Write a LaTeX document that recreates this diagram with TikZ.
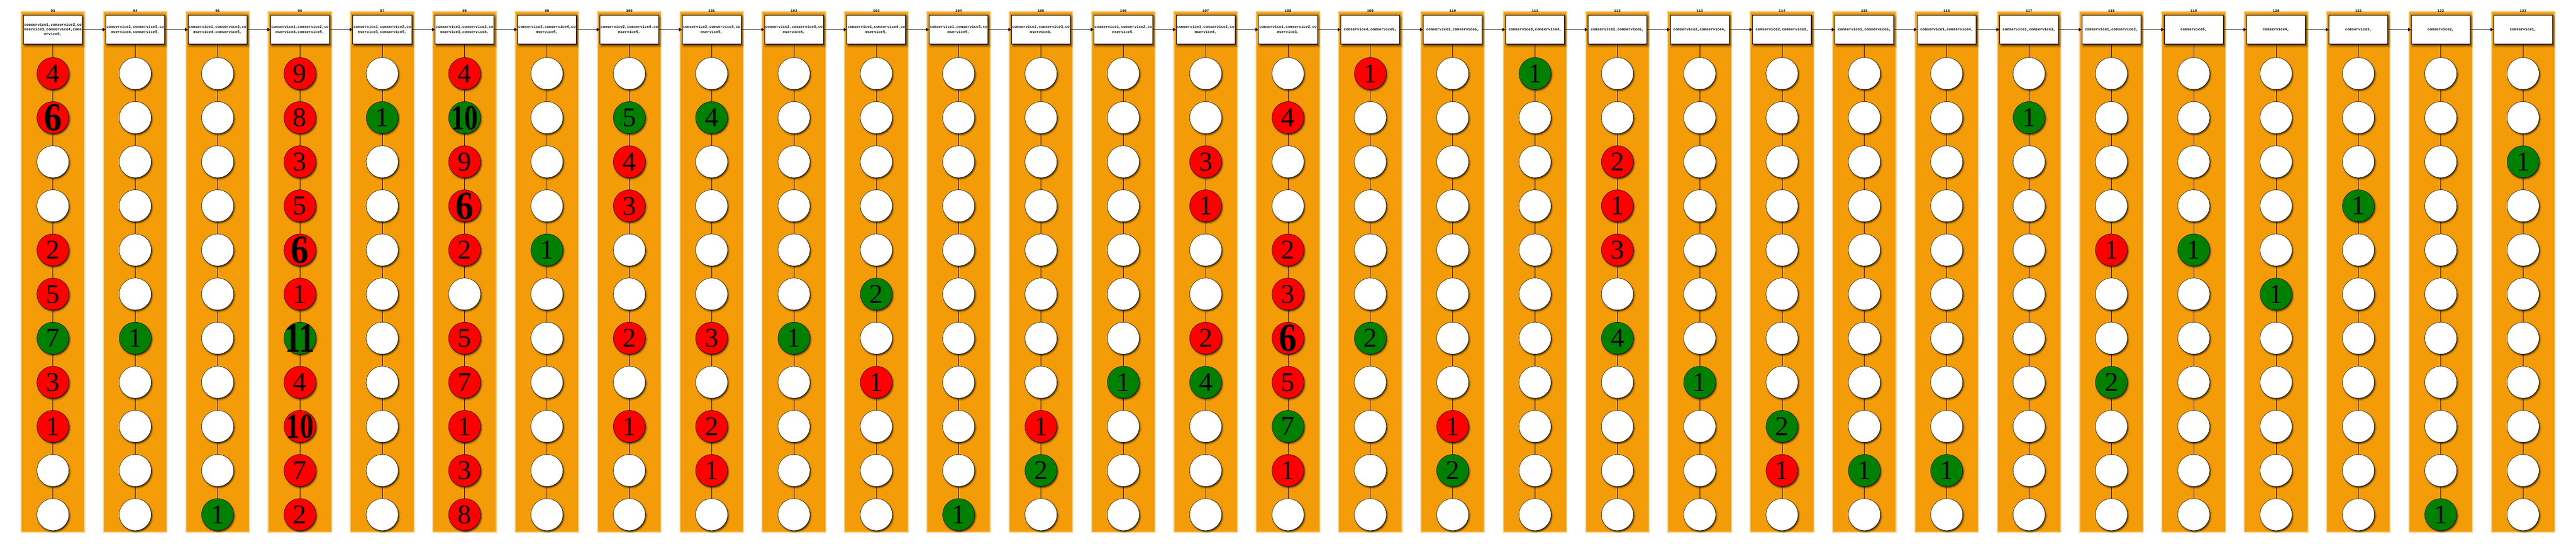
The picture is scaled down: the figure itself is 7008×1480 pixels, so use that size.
\documentclass[tikz,border=0pt]{standalone}
\usepackage{fontspec}
\usepackage{graphicx}
\setmainfont{Liberation Serif}
\newfontfamily\monof{Liberation Mono}
\usetikzlibrary{arrows.meta,shadows.blur}
\definecolor{bandc}{RGB}{243,156,8}
\definecolor{cred}{RGB}{255,0,0}
\definecolor{cgreen}{RGB}{0,128,0}
\newcommand\ctr[1]{\smash{\makebox[0pt]{\raisebox{-0.5\height}{#1}}}}
\newcommand\numsix{\scalebox{1.32}[1.46]{\bfseries 6}}
\newcommand\numten{\scalebox{1.0}[1.3]{\bfseries 10}}
\newcommand\numeleven{\scalebox{1.15}[1.55]{\bfseries 11}}
\tikzset{
  bandfill/.style={fill=bandc},
  bandedge/.style={fill=bandc, fill opacity=0.35},
  lab/.style={font=\monof\bfseries\fontsize{10}{12}\selectfont, inner sep=0pt},
  sbox/.style={draw, line width=1.5pt, fill=white, minimum width=160pt, minimum height=79pt,
    inner sep=0pt, align=center, font=\monof\bfseries\fontsize{10}{13}\selectfont,
    blur shadow={shadow xshift=4pt, shadow yshift=-5pt, shadow blur radius=5pt, shadow opacity=60}},
  circbase/.style={circle, draw, line width=0.8pt, minimum size=87pt, inner sep=0pt,
    font=\fontsize{74}{74}\selectfont,
    blur shadow={shadow xshift=2.5pt, shadow yshift=-3.5pt, shadow blur radius=3pt, shadow opacity=70}},
  circW/.style={circbase, fill=white},
  circR/.style={circbase, fill=cred},
  circG/.style={circbase, fill=cgreen},
  conn/.style={line width=1pt},
  arr/.style={line width=1.2pt, -{Triangle[length=8pt,width=9pt]}},
}
\newcommand\drawcol[4]{%
  \pgfmathsetmacro\cx{144+224*#1}%
  \path[bandedge] (\cx-88,30) rectangle (\cx+88,1450);
  \path[bandedge] (\cx-86.5,31.5) rectangle (\cx+86.5,1448.5);
  \path[bandfill] (\cx-85,33) rectangle (\cx+85,1447);
  \node[lab] (l#1) at (\cx,30) {#2};
  \node[sbox] (b#1) at (\cx,80.5) {#3};
  \foreach \cl/\nm [count=\rw] in {#4} {
    \node[circ\cl] (c#1-\rw) at (\cx,80+120*\rw) {\ctr{\nm}};
  }
  \draw[conn] (b#1) -- (c#1-1);
  \foreach \rw [evaluate=\rw as \rn using int(\rw+1)] in {1,...,10} {
    \draw[conn] (c#1-\rw) -- (c#1-\rn);
  }
}
\begin{document}
\begin{tikzpicture}[x=1pt,y=-1pt]
\useasboundingbox (0,0) rectangle (7008,1480);
\drawcol{0}{93}{comservice1,comservice2,co\\mservice3,comservice4,coms\\ervice5,}{R/4,R/\numsix,W/{},W/{},R/2,R/5,G/7,R/3,R/1,W/{},W/{}}
\drawcol{1}{94}{comservice2,comservice3,co\\mservice4,comservice5,}{W/{},W/{},W/{},W/{},W/{},W/{},G/1,W/{},W/{},W/{},W/{}}
\drawcol{2}{95}{comservice1,comservice3,co\\mservice4,comservice5,}{W/{},W/{},W/{},W/{},W/{},W/{},W/{},W/{},W/{},W/{},G/1}
\drawcol{3}{96}{comservice1,comservice2,co\\mservice4,comservice5,}{R/9,R/8,R/3,R/5,R/\numsix,R/1,G/\numeleven,R/4,R/\numten,R/7,R/2}
\drawcol{4}{97}{comservice1,comservice2,co\\mservice3,comservice5,}{W/{},G/1,W/{},W/{},W/{},W/{},W/{},W/{},W/{},W/{},W/{}}
\drawcol{5}{98}{comservice1,comservice2,co\\mservice3,comservice4,}{R/4,G/\numten,R/9,R/\numsix,R/2,W/{},R/5,R/7,R/1,R/3,R/8}
\drawcol{6}{99}{comservice3,comservice4,co\\mservice5,}{W/{},W/{},W/{},W/{},G/1,W/{},W/{},W/{},W/{},W/{},W/{}}
\drawcol{7}{100}{comservice2,comservice4,co\\mservice5,}{W/{},G/5,R/4,R/3,W/{},W/{},R/2,W/{},R/1,W/{},W/{}}
\drawcol{8}{101}{comservice2,comservice3,co\\mservice5,}{W/{},G/4,W/{},W/{},W/{},W/{},R/3,W/{},R/2,R/1,W/{}}
\drawcol{9}{102}{comservice2,comservice3,co\\mservice4,}{W/{},W/{},W/{},W/{},W/{},W/{},G/1,W/{},W/{},W/{},W/{}}
\drawcol{10}{103}{comservice1,comservice4,co\\mservice5,}{W/{},W/{},W/{},W/{},W/{},G/2,W/{},R/1,W/{},W/{},W/{}}
\drawcol{11}{104}{comservice1,comservice3,co\\mservice5,}{W/{},W/{},W/{},W/{},W/{},W/{},W/{},W/{},W/{},W/{},G/1}
\drawcol{12}{105}{comservice1,comservice3,co\\mservice4,}{W/{},W/{},W/{},W/{},W/{},W/{},W/{},W/{},R/1,G/2,W/{}}
\drawcol{13}{106}{comservice1,comservice2,co\\mservice5,}{W/{},W/{},W/{},W/{},W/{},W/{},W/{},G/1,W/{},W/{},W/{}}
\drawcol{14}{107}{comservice1,comservice2,co\\mservice4,}{W/{},W/{},R/3,R/1,W/{},W/{},R/2,G/4,W/{},W/{},W/{}}
\drawcol{15}{108}{comservice1,comservice2,co\\mservice3,}{W/{},R/4,W/{},W/{},R/2,R/3,R/\numsix,R/5,G/7,R/1,W/{}}
\drawcol{16}{109}{comservice4,comservice5,}{R/1,W/{},W/{},W/{},W/{},W/{},G/2,W/{},W/{},W/{},W/{}}
\drawcol{17}{110}{comservice3,comservice5,}{W/{},W/{},W/{},W/{},W/{},W/{},W/{},W/{},R/1,G/2,W/{}}
\drawcol{18}{111}{comservice3,comservice4,}{G/1,W/{},W/{},W/{},W/{},W/{},W/{},W/{},W/{},W/{},W/{}}
\drawcol{19}{112}{comservice2,comservice5,}{W/{},W/{},R/2,R/1,R/3,W/{},G/4,W/{},W/{},W/{},W/{}}
\drawcol{20}{113}{comservice2,comservice4,}{W/{},W/{},W/{},W/{},W/{},W/{},W/{},G/1,W/{},W/{},W/{}}
\drawcol{21}{114}{comservice2,comservice3,}{W/{},W/{},W/{},W/{},W/{},W/{},W/{},W/{},G/2,R/1,W/{}}
\drawcol{22}{115}{comservice1,comservice5,}{W/{},W/{},W/{},W/{},W/{},W/{},W/{},W/{},W/{},G/1,W/{}}
\drawcol{23}{116}{comservice1,comservice4,}{W/{},W/{},W/{},W/{},W/{},W/{},W/{},W/{},W/{},G/1,W/{}}
\drawcol{24}{117}{comservice1,comservice3,}{W/{},G/1,W/{},W/{},W/{},W/{},W/{},W/{},W/{},W/{},W/{}}
\drawcol{25}{118}{comservice1,comservice2,}{W/{},W/{},W/{},W/{},R/1,W/{},W/{},G/2,W/{},W/{},W/{}}
\drawcol{26}{119}{comservice5,}{W/{},W/{},W/{},W/{},G/1,W/{},W/{},W/{},W/{},W/{},W/{}}
\drawcol{27}{120}{comservice4,}{W/{},W/{},W/{},W/{},W/{},G/1,W/{},W/{},W/{},W/{},W/{}}
\drawcol{28}{121}{comservice3,}{W/{},W/{},W/{},G/1,W/{},W/{},W/{},W/{},W/{},W/{},W/{}}
\drawcol{29}{122}{comservice2,}{W/{},W/{},W/{},W/{},W/{},W/{},W/{},W/{},W/{},W/{},G/1}
\drawcol{30}{123}{comservice1,}{W/{},W/{},G/1,W/{},W/{},W/{},W/{},W/{},W/{},W/{},W/{}}
\foreach \k [evaluate=\k as \j using int(\k+1)] in {0,...,29} {
  \draw[arr] (b\k) -- (b\j);
}
\end{tikzpicture}
\end{document}
